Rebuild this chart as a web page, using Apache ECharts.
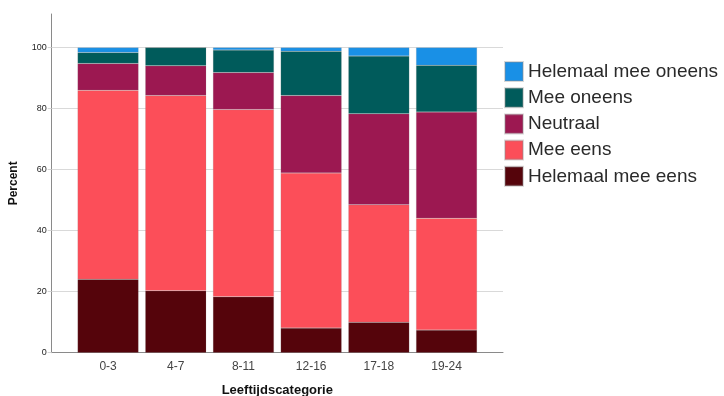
<!DOCTYPE html>
<html>
<head>
<meta charset="utf-8">
<script src="https://cdn.jsdelivr.net/npm/echarts@6/dist/echarts.min.js"></script>
<style>
  html, body { margin: 0; padding: 0; background: #fff; }
  #chart { width: 724px; height: 396px; }
</style>
</head>
<body>
<div id="chart"></div>
<script>
// Age categories on the x axis
const categories = ['0-3', '4-7', '8-11', '12-16', '17-18', '19-24'];

// Percent of answers per category, stacked from the bottom up
const helemaalMeeEens   = [24.1, 20.3, 18.3,  8.1, 10.0,  7.4];
const meeEens           = [61.9, 64.0, 61.4, 50.8, 38.5, 36.7];
const neutraal          = [ 8.8,  9.7, 12.1, 25.4, 29.8, 34.8];
const meeOneens         = [ 3.6,  6.0,  7.4, 14.5, 18.9, 15.3];
const helemaalMeeOneens = [ 1.6,  0.0,  0.8,  1.2,  2.8,  5.8];

const yTicks = [0, 20, 40, 60, 80, 100];

const seriesDefs = [
  { name: 'Helemaal mee eens',   data: helemaalMeeEens,   color: '#55040b' },
  { name: 'Mee eens',            data: meeEens,           color: '#fc4e59' },
  { name: 'Neutraal',            data: neutraal,          color: '#9c1851' },
  { name: 'Mee oneens',          data: meeOneens,         color: '#005b5b' },
  { name: 'Helemaal mee oneens', data: helemaalMeeOneens, color: '#1990e6' }
];

const chart = echarts.init(document.getElementById('chart'), null, { renderer: 'canvas' });

const font = 'Liberation Sans, Arial, sans-serif';

chart.setOption({
  animation: false,
  backgroundColor: '#ffffff',
  textStyle: { fontFamily: font },
  grid: [
    // frame: value axis, gridlines and the baseline
    { left: 51.7, right: 221, top: 14, bottom: 43.3, outerBoundsMode: 'none', containLabel: false },
    // bars
    { left: 74.2, right: 243.6, top: 14, bottom: 43.3, outerBoundsMode: 'none', containLabel: false }
  ],
  legend: {
    orient: 'vertical',
    left: 504,
    top: 61,
    padding: 0,
    itemWidth: 18,
    itemHeight: 19,
    itemGap: 5.2,
    icon: 'rect',
    data: seriesDefs.map(s => s.name).reverse(),
    textStyle: { fontFamily: font, fontSize: 19, lineHeight: 19, color: '#2a2a2a' }
  },
  xAxis: [
    {
      gridIndex: 0, type: 'value', min: 0, max: 1,
      axisLine: { show: true, lineStyle: { color: '#8a8a8a', width: 1 } },
      axisTick: { show: false }, axisLabel: { show: false }, splitLine: { show: false }
    },
    {
      gridIndex: 1, type: 'category', data: categories,
      name: 'Leeftijdscategorie', nameLocation: 'middle', nameGap: 31,
      nameTextStyle: { fontFamily: font, fontSize: 13, fontWeight: 'bold', color: '#111' },
      axisLine: { show: false }, axisTick: { show: false },
      axisLabel: { fontFamily: font, fontSize: 12, color: '#444', margin: 8 }
    }
  ],
  yAxis: [
    {
      gridIndex: 0, type: 'value', min: 0, max: 111, interval: 20,
      name: 'Percent', nameLocation: 'middle', nameGap: 32, nameRotate: 90,
      nameTextStyle: { fontFamily: font, fontSize: 12, fontWeight: 'bold', color: '#111' },
      axisLine: { show: true, lineStyle: { color: '#8a8a8a', width: 1 } },
      axisTick: { show: true, length: 4, lineStyle: { color: '#d4d4d4' } },
      axisLabel: {
        fontFamily: font, fontSize: 9, color: '#222', margin: 5,
        showMaxLabel: false,
        formatter: v => (yTicks.includes(v) ? String(v) : '')
      },
      splitLine: { show: true, showMinLine: false, showMaxLine: false, lineStyle: { color: '#d9d9d9', width: 1 } }
    },
    {
      gridIndex: 1, type: 'value', min: 0, max: 111, show: false,
      splitLine: { show: false }
    }
  ],
  series: seriesDefs.map(s => ({
    name: s.name,
    type: 'bar',
    stack: 'total',
    xAxisIndex: 1,
    yAxisIndex: 1,
    barWidth: 61,
    itemStyle: { color: s.color, borderColor: 'rgba(140,140,140,0.35)', borderWidth: 0.5 },
    emphasis: { disabled: true },
    data: s.data
  }))
});
</script>
</body>
</html>
